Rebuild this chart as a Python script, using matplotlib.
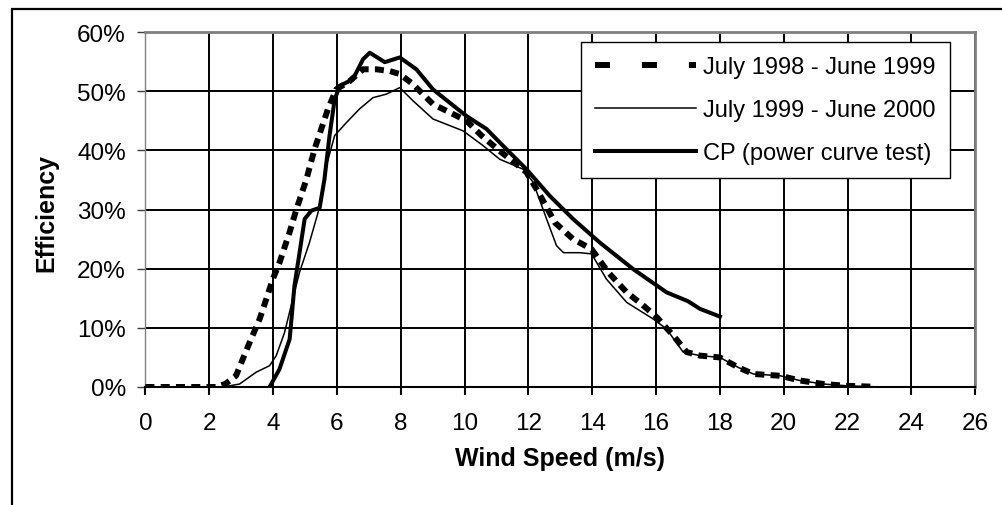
import matplotlib
matplotlib.use("Agg")
import matplotlib.pyplot as plt
from matplotlib.lines import Line2D
from matplotlib.patches import Rectangle
from matplotlib.ticker import FuncFormatter

plt.rcParams['font.family'] = ['Liberation Sans', 'DejaVu Sans']
plt.rcParams['lines.scale_dashes'] = False

# July 1998 - June 1999 (dashed)
ws_98 = [0, 1, 2, 2.2, 2.5, 2.84, 3.05, 3.31, 3.58, 3.79, 3.99, 4.2, 4.52, 4.73, 5.04,
         5.3, 5.51, 5.72, 5.98, 6.4, 6.82, 7.24, 7.65, 7.97, 8.38, 9.01, 9.54, 10.06,
         10.53, 11.1, 11.57, 11.94, 12.26, 12.52, 12.83, 13.4, 13.98, 14.5, 15.08,
         15.55, 16.02, 16.54, 16.96, 17.38, 18.0, 18.58, 19.05, 19.89, 20.5, 21.25,
         21.98, 22.8]
eff_98 = [0, 0, 0, 0, 0.5, 1.9, 4.7, 8.1, 11.5, 14.9, 18.2, 21, 26.2, 30, 35,
          40.2, 43.6, 47, 50.3, 51.7, 53.7, 53.7, 53.4, 52.9, 51.2, 47.8, 46.4, 45,
          42.5, 39.9, 37.9, 36.3, 33.4, 30.9, 27.8, 25, 23.3, 19.4, 16,
          14, 11.8, 8.7, 5.9, 5.3, 5, 3.3, 2.2, 1.9, 1.1, 0.5,
          0.2, 0.05]

# July 1999 - June 2000 (thin)
ws_99 = [0, 1, 2, 2.42, 2.95, 3.47, 3.89, 4.1, 4.36, 4.62, 4.83, 5.14, 5.41, 5.67,
         5.93, 6.3, 6.71, 7.13, 7.55, 7.97, 8.38, 9.01, 9.95, 10.58, 11.1, 11.84,
         12.15, 12.57, 12.88, 13.1, 13.61, 13.98, 14.45, 15.08, 15.91, 16.33, 16.85,
         17.38, 18.0, 18.58, 19.05, 19.89, 20.5, 21.25, 21.98, 22.8]
eff_99 = [0, 0, 0, 0, 0.5, 2.5, 3.6, 5.3, 9.2, 14.9, 19.4, 24.4, 29.5, 37.4,
          42.5, 44.7, 47, 48.9, 49.5, 50.6, 48.4, 45.3, 43.3, 40.8, 38.5, 36.8,
          34.6, 28.4, 23.9, 22.7, 22.7, 22.5, 18.2, 14.3, 11.5, 9.8, 5.9,
          5.3, 5, 3.3, 2.2, 1.9, 1.1, 0.5, 0.2, 0.05]

# CP (power curve test)
ws_cp = [3.89, 4.2, 4.52, 4.67, 4.83, 4.99, 5.2, 5.46, 5.61, 5.77, 5.93, 6.09, 6.5,
         6.82, 7.03, 7.5, 7.97, 8.49, 9.01, 10.06, 10.69, 11.31, 11.94, 12.67, 13.4,
         14.24, 15.29, 16.33, 17.0, 17.38, 18.0]
eff_cp = [0, 3, 8.1, 17.1, 22.7, 28.4, 29.8, 30.3, 35.1, 42.5, 48.6, 50.9, 52,
          55.4, 56.5, 54.9, 55.7, 53.7, 50.3, 45.8, 43.6, 40.2, 36.8, 32.3, 28.4,
          24.4, 19.9, 16, 14.5, 13.2, 11.9]

labels = ["July 1998 - June 1999", "July 1999 - June 2000", "CP (power curve test)"]

W, H = 1003, 506
fig = plt.figure(figsize=(W / 100, H / 100), dpi=100)
x0, x1, y0, y1 = 145.4, 975.2, 33, 388
ax = fig.add_axes([x0 / W, 1 - y1 / H, (x1 - x0) / W, (y1 - y0) / H])

ax.plot(ws_98, eff_98, color='black', lw=4.3, dashes=(6.5, 4.5), zorder=3)
l99, = ax.plot(ws_99, eff_99, color='black', lw=1.1, zorder=4)
lcp, = ax.plot(ws_cp, eff_cp, color='black', lw=2.9, zorder=5)

ax.set_xlim(0, 26)
ax.set_ylim(0, 60)
ax.set_xticks(range(0, 27, 2))
ax.set_yticks(range(0, 61, 10))
ax.yaxis.set_major_formatter(FuncFormatter(lambda v, p: f"{v:.0f}%"))
ax.grid(True, color='black', lw=1.4)
ax.set_axisbelow(True)

for s in ['top', 'right']:
    ax.spines[s].set_color('#808080')
    ax.spines[s].set_linewidth(2)
ax.spines['left'].set_color('#808080')
ax.spines['left'].set_linewidth(1)
ax.spines['bottom'].set_color('black')
ax.spines['bottom'].set_linewidth(1.5)

ax.tick_params(axis='x', length=6, width=1.5, color='black', pad=12, labelsize=17.5)
ax.tick_params(axis='y', length=6, width=1, color='#404040', pad=8, labelsize=17.5)

# legend sample for the dashed series uses longer gaps, like the original
h98 = Line2D([], [], color='black', lw=4.3, dashes=(10.8, 23))
leg = ax.legend([h98, l99, lcp], labels, loc='upper right',
                bbox_to_anchor=((950 - x0) / (x1 - x0), (y1 - 43) / (y1 - y0)),
                borderaxespad=0, fontsize=17, frameon=True, fancybox=False,
                edgecolor='black', framealpha=1, borderpad=0.6, labelspacing=0.89,
                handlelength=4.3, handletextpad=0.3)
leg.get_frame().set_linewidth(1)

fig.text(46 / W, 1 - 213 / H, "Efficiency", rotation=90, fontsize=18, fontweight='bold',
         ha='center', va='center')
fig.text(560 / W, 1 - 459 / H, "Wind Speed (m/s)", fontsize=18, fontweight='bold',
         ha='center', va='center')

# outer chart frame
fig.patches.append(Rectangle((12 / W, -0.1), 1.2, 1.1 - 10 / H, transform=fig.transFigure,
                             fill=False, edgecolor='black', lw=1.6, clip_on=False))

fig.savefig("out.png", dpi=100)
